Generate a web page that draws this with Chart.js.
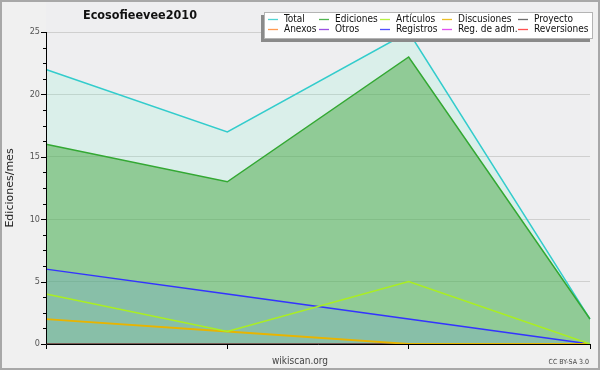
<!DOCTYPE html>
<html>
<head>
<meta charset="utf-8">
<script src="https://cdn.jsdelivr.net/npm/chart.js@4.4.1/dist/chart.umd.min.js"></script>
<style>
  html, body { margin: 0; padding: 0; background: #f0f0f0; }
  #grafico { display: block; }
</style>
</head>
<body>
<canvas id="grafico" width="600" height="370"></canvas>
<script>
// datos (ediciones por mes)
const categorias = ['mes 1', 'mes 2', 'mes 3', 'mes 4'];
const total = [22, 17, 25, 2];
const ediciones = [16, 13, 23, 2];
const articulos = [4, 1, 5, 0];
const discusiones = [2, 1, 0, 0];
const proyecto = [0, 0, 0, 0];
const anexos = [0, 0, 0, 0];
const otros = [0, 0, 0, 0];
const registros = [6, 4, 2, 0];
const regAdm = [0, 0, 0, 0];
const reversiones = [0, 0, 0, 0];
const ticksY = [0, 5, 10, 15, 20, 25];

const titulo = 'Ecosofieevee2010';
const condensada = '"DejaVu Sans Condensed", "DejaVu Sans", sans-serif';

function serie(label, data, color, extra) {
  return Object.assign({
    label: label,
    data: data,
    borderColor: color,
    borderWidth: 1.5,
    pointRadius: 0,
    tension: 0,
    fill: false,
    order: 0
  }, extra || {});
}

const datasets = [
  serie('Total', total, '#33cccc', { fill: 'origin', backgroundColor: 'rgba(105,251,200,0.15)', order: 3 }),
  serie('Ediciones', ediciones, '#33a833', { fill: 'origin', backgroundColor: 'rgba(70,168,66,0.5)', order: 2 }),
  serie('Artículos', articulos, '#aaee22'),
  serie('Discusiones', discusiones, '#e8b400', { borderWidth: 1.8 }),
  serie('Proyecto', proyecto, '#555555'),
  serie('Anexos', anexos, '#ff8833'),
  serie('Otros', otros, '#8833dd'),
  serie('Registros', registros, '#3333ff', { fill: 'origin', backgroundColor: 'rgba(104,144,240,0.2)', order: 1 }),
  serie('Reg. de adm.', regAdm, '#dd33ee'),
  serie('Reversiones', reversiones, '#ff3333')
];

// leyenda: 5 columnas, 2 filas
const leyendaCols = [268, 319, 380, 442, 518];
const leyendaFilas = [19, 29];

const decoracion = {
  id: 'decoracion',
  beforeDraw(chart) {
    const ctx = chart.ctx;
    const a = chart.chartArea;
    ctx.save();
    ctx.fillStyle = '#f0f0f0';
    ctx.fillRect(0, 0, chart.width, chart.height);
    ctx.fillStyle = '#eeeef0';
    ctx.fillRect(a.left, 0, a.right - a.left, a.bottom);
    ctx.restore();
  },
  afterDatasetsDraw(chart) {
    const ctx = chart.ctx;
    const a = chart.chartArea;
    const y = chart.scales.y;
    ctx.save();
    // ejes
    ctx.strokeStyle = '#000';
    ctx.lineWidth = 1;
    ctx.beginPath();
    ctx.moveTo(a.left + 0.5, a.top);
    ctx.lineTo(a.left + 0.5, a.bottom + 0.5);
    ctx.lineTo(a.right, a.bottom + 0.5);
    ctx.stroke();
    // marcas del eje y
    for (let v = 0; v <= 25.001; v += 1.25) {
      const py = Math.round(y.getPixelForValue(v)) + 0.5;
      const mayor = Math.abs(v % 5) < 0.01;
      ctx.beginPath();
      ctx.moveTo(a.left - (mayor ? 5 : 3), py);
      ctx.lineTo(a.left, py);
      ctx.stroke();
    }
    ctx.fillStyle = '#555';
    ctx.font = '9px ' + condensada;
    ctx.textAlign = 'right';
    ctx.textBaseline = 'middle';
    ticksY.forEach(v => {
      ctx.fillText(String(v), 40, y.getPixelForValue(v));
    });
    ctx.restore();
  },
  afterDraw(chart) {
    const ctx = chart.ctx;
    ctx.save();
    // titulo
    ctx.fillStyle = '#111';
    ctx.font = 'bold 12.5px ' + condensada;
    ctx.textAlign = 'center';
    ctx.textBaseline = 'middle';
    ctx.fillText(titulo, 140, 16);
    // titulo del eje y
    ctx.save();
    ctx.translate(10, 188);
    ctx.rotate(-Math.PI / 2);
    ctx.font = '11px "DejaVu Sans", sans-serif';
    ctx.fillStyle = '#222';
    ctx.fillText('Ediciones/mes', 0, 0);
    ctx.restore();
    // pie
    ctx.font = '10px ' + condensada;
    ctx.fillStyle = '#444';
    ctx.fillText('wikiscan.org', 300, 361);
    ctx.font = '7px ' + condensada;
    ctx.textAlign = 'right';
    ctx.fillText('CC BY-SA 3.0', 589, 362);
    // leyenda (sombra abajo a la izquierda)
    ctx.fillStyle = '#8a8a8a';
    ctx.fillRect(261, 15, 329, 27);
    ctx.fillStyle = '#fff';
    ctx.fillRect(264, 12, 329, 27);
    ctx.strokeStyle = '#b4b4b4';
    ctx.lineWidth = 1;
    ctx.strokeRect(264.5, 12.5, 328, 26);
    ctx.font = '10px ' + condensada;
    ctx.textAlign = 'left';
    chart.data.datasets.forEach((ds, i) => {
      const col = i % 5;
      const fila = Math.floor(i / 5);
      const x = leyendaCols[col];
      const yy = leyendaFilas[fila];
      ctx.globalAlpha = 0.85;
      ctx.strokeStyle = ds.borderColor;
      ctx.lineWidth = 1.3;
      ctx.beginPath();
      ctx.moveTo(x, yy + 0.5);
      ctx.lineTo(x + 10, yy + 0.5);
      ctx.stroke();
      ctx.globalAlpha = 1;
      ctx.fillStyle = '#111';
      ctx.fillText(ds.label, x + 16, yy);
    });
    // borde exterior
    ctx.strokeStyle = '#a8a8a8';
    ctx.lineWidth = 2;
    ctx.strokeRect(1, 1, chart.width - 2, chart.height - 2);
    ctx.restore();
  }
};

new Chart(document.getElementById('grafico'), {
  type: 'line',
  data: { labels: categorias, datasets: datasets },
  options: {
    responsive: false,
    animation: false,
    layout: { padding: { left: 0, right: 10, top: 32, bottom: 0 } },
    plugins: {
      legend: { display: false },
      title: { display: false },
      tooltip: { enabled: false },
      filler: { propagate: false }
    },
    scales: {
      x: {
        type: 'category',
        offset: false,
        border: { display: false },
        grid: { display: true, drawOnChartArea: false, drawTicks: true, tickLength: 5, color: '#000' },
        ticks: { callback: () => '', padding: 0 },
        afterFit(scale) { scale.height = 26; }
      },
      y: {
        min: 0,
        max: 25,
        border: { display: false },
        ticks: { display: false, stepSize: 5 },
        grid: { drawTicks: false, color: '#cfcfcf' },
        afterFit(scale) { scale.width = 46; }
      }
    }
  },
  plugins: [decoracion]
});
</script>
</body>
</html>
